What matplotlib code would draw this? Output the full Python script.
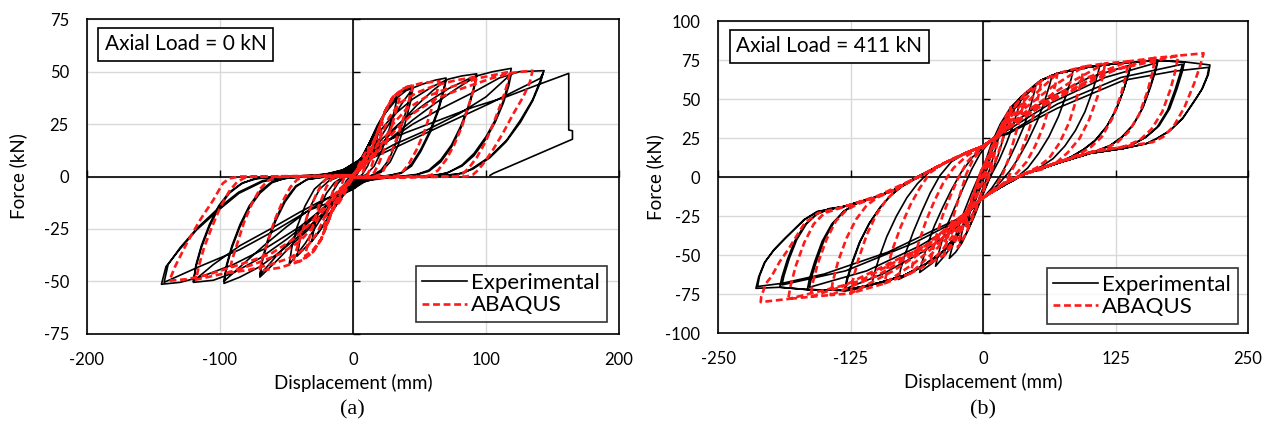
import matplotlib
matplotlib.use('Agg')
import matplotlib.pyplot as plt
import numpy as np

plt.rcParams['font.family'] = ['Lato', 'DejaVu Sans']
plt.rcParams['axes.unicode_minus'] = False

# ---- panel (a): axial load 0 kN, (displacement mm, force kN) ----
exp_a = [
    (0, 0), (3, 4), (6, 8), (10, 12), (8, 8), (5, 3), (2, 0), (0, -1),
    (-3, -4), (-6, -7), (-10, -10), (-8, -6), (-5, -2), (-2, 0), (0, 1),
    (4, 6), (8, 11), (14, 18), (20, 24), (18, 18), (15, 11), (11, 5), (7, 1), (3, -1), (0, -2),
    (-4, -5), (-9, -10), (-14, -15), (-20, -19), (-18, -13), (-15, -7), (-11, -3), (-6, 0), (0, 2),
    (5, 6), (10, 13), (16, 21), (24, 30), (33, 37), (31, 31), (27, 22), (22, 13), (16, 5), (10, 1), (4, -1), (0, -3),
    (-5, -6), (-11, -12), (-18, -19), (-25, -26), (-31, -31), (-29, -24), (-25, -15), (-20, -8), (-14, -3), (-7, 0), (0, 3),
    (5, 7), (11, 14), (18, 24), (26, 33), (35, 40), (44, 43), (42, 36), (38, 27), (33, 17), (27, 8), (21, 3), (14, 0.5), (6, -1), (0, -3),
    (-6, -8), (-13, -14), (-21, -22), (-30, -30), (-42, -38), (-40, -31), (-36, -22), (-31, -13), (-25, -6), (-18, -2), (-10, 0), (0, 3),
    (5, 6), (12, 11), (20, 18), (30, 28), (38, 36), (45, 42), (43, 35), (39, 25), (34, 15), (28, 7), (21, 2), (12, 0), (5, -1.5), (0, -4),
    (-7, -8), (-15, -12), (-25, -21), (-36, -32), (-48, -42), (-46, -34), (-42, -24), (-36, -14), (-29, -6), (-21, -1.5), (-10, 0.5), (0, 4),
    (4, 7), (10, 12), (16, 20), (22, 28), (30, 36), (40, 41), (52, 44), (62, 46), (70, 47),
    (68, 41), (64, 32), (58, 22), (51, 13), (44, 6), (37, 2), (28, 0.5), (15, 0), (6, -1.5), (0, -4),
    (-6, -8), (-13, -12), (-22, -18), (-33, -25), (-45, -32), (-57, -40), (-70, -48),
    (-68, -40), (-64, -31), (-58, -21), (-51, -12), (-43, -5), (-35, -1.5), (-25, -0.5), (-12, 0.5), (-5, 2), (0, 4),
    (5, 6), (12, 9), (22, 16), (35, 25), (48, 34), (60, 41), (70, 46),
    (68, 40), (64, 31), (58, 21), (51, 12), (44, 5), (36, 1.5), (25, 0.3), (12, -0.5), (5, -2), (0, -5),
    (-7, -8), (-15, -11), (-26, -17), (-40, -26), (-55, -36), (-70, -47),
    (-68, -39), (-64, -30), (-58, -20), (-51, -11), (-43, -4.5), (-34, -1.3), (-22, -0.3), (-10, 1), (-4, 2.5), (0, 5),
    (4, 7), (10, 12), (18, 20), (30, 29), (45, 37), (60, 43), (72, 46.5), (82, 48), (93, 49),
    (91, 43), (87, 34), (81, 24), (74, 15), (66, 8), (57, 3), (48, 1), (35, 0), (18, 0), (8, -1.5), (0, -5),
    (-6, -8), (-14, -12), (-25, -19), (-40, -28), (-55, -36), (-70, -43), (-85, -48), (-97, -51),
    (-95, -43), (-91, -34), (-85, -24), (-78, -15), (-70, -8), (-61, -3), (-52, -1), (-40, -0.3), (-20, 0.5), (-8, 2), (0, 5),
    (6, 7), (14, 10), (28, 18), (45, 27), (62, 35), (78, 42), (93, 48),
    (91, 42), (87, 33), (81, 23), (74, 14), (66, 7), (57, 2.5), (46, 0.5), (30, 0), (12, -1), (5, -2.5), (0, -5),
    (-8, -8), (-18, -10), (-33, -16), (-50, -24), (-67, -33), (-83, -42), (-97, -50),
    (-95, -42), (-91, -33), (-85, -23), (-78, -14), (-70, -7), (-61, -2.5), (-50, -0.8), (-35, 0), (-15, 1), (-5, 3), (0, 6),
    (5, 8), (12, 11), (22, 18), (38, 27), (55, 35), (72, 42), (90, 47.5), (105, 50), (119, 51.6),
    (117, 45), (113, 36), (107, 27), (100, 19), (91, 11), (82, 5.5), (72, 2), (62, 0.5), (40, 0), (20, -0.5), (8, -2), (0, -6),
    (-7, -8), (-16, -12), (-30, -20), (-50, -30), (-70, -39), (-90, -46), (-105, -49.5), (-120, -50.5),
    (-118, -43), (-114, -34), (-108, -24), (-101, -15), (-93, -8), (-84, -3.5), (-74, -1), (-60, -0.3), (-30, 0.5), (-10, 2), (0, 6),
    (7, 7), (16, 10), (30, 15), (55, 22), (80, 30), (100, 38), (119, 49),
    (117, 43), (113, 35), (107, 26), (100, 18), (91, 10), (82, 5), (70, 1.5), (58, 0.3), (30, -0.3), (10, -2), (0, -6),
    (-9, -8), (-22, -11), (-40, -17), (-62, -25), (-85, -33), (-105, -42), (-120, -50),
    (-118, -42), (-114, -33), (-108, -23), (-101, -14), (-93, -7.5), (-83, -3), (-72, -1), (-55, -0.2), (-25, 0.5), (-8, 2.5), (0, 6),
    (5, 7), (12, 10), (24, 16), (45, 25), (65, 32), (90, 40), (110, 47), (125, 50), (143.7, 50.5),
    (141, 46), (135, 36.6), (126, 27), (115.6, 17.4), (103, 9.5), (90, 4), (83, 1.5), (65, 0.3), (40, 0), (15, -0.5), (5, -3), (0, -6),
    (-10, -9), (-22, -15), (-40, -24), (-65, -34), (-90, -42), (-115, -48), (-130, -50.5), (-144, -51.4),
    (-140.6, -43), (-130.6, -35), (-117.6, -25.5), (-101, -16), (-85.7, -8), (-68, -2.5), (-50, -0.1), (-25, 0.5), (-8, 3), (0, 6),
    (6, 7.5), (15, 9), (22.5, 11.1), (65.3, 23.8), (103, 34.9), (140.7, 46.8), (143, 49.5),
    (141, 45), (135, 36), (126, 26), (115, 16.5), (103, 9), (90, 3.5), (78, 1), (55, 0), (20, -0.5), (6, -3), (0, -6),
    (-10, -9), (-20, -13), (-32.8, -16), (-57.9, -25.5), (-85.5, -35), (-115.6, -43), (-142, -50.5),
    (-139, -42), (-130, -34), (-117, -24.5), (-101, -15), (-86, -7.5), (-68, -2), (-50, 0), (-20, 1), (-6, 3.5), (0, 6),
    (5, 8), (15, 14.2), (40, 21), (65.3, 27), (90, 33), (115.6, 38.1), (140, 44), (162.2, 49.2),
    (162.2, 22.2), (165, 21.8), (165, 17.8), (105.5, 1.5), (103, 0.5),
]

fem_a = [
    (0, 0), (4, 5), (8, 10), (12, 14), (11, 11), (9, 5), (7, 1), (5, 0), (0, -0.5),
    (-4, -5), (-8, -10), (-12, -14), (-11, -10), (-9, -5), (-7, -1), (-5, 0), (0, 0.5),
    (6, 6), (12, 12), (17, 19), (22, 26), (21, 21), (18, 13), (14, 5), (11, 1), (8, 0), (0, -0.5),
    (-6, -6), (-12, -12), (-17, -19), (-22, -26), (-21, -21), (-18, -13), (-14, -5), (-11, -1), (-8, 0), (0, 0.5),
    (7, 6), (14, 13), (19, 22), (24, 31), (30, 37), (36, 40), (34, 35), (30, 26), (25, 16), (20, 7), (16, 2), (12, 0), (0, -0.5),
    (-7, -6), (-14, -13), (-19, -22), (-24, -30), (-30, -35), (-36, -38), (-34, -32), (-30, -23), (-25, -13), (-20, -5), (-16, -1), (-12, 0), (0, 0.5),
    (7, 6), (14, 13), (19, 22), (24, 31), (30, 38), (38, 42), (45, 43.4), (43, 38), (39, 30), (34, 20), (28, 10), (23, 3), (19, 0.5), (14, 0), (0, -0.5),
    (-7, -6), (-14, -13), (-19, -22), (-24, -30), (-30, -36), (-38, -40), (-45, -41), (-43, -36), (-39, -28), (-34, -18), (-28, -9), (-23, -3), (-19, -0.5), (-14, 0), (0, 0.5),
    (7, 6), (14, 13), (19, 22), (24, 31), (30, 38), (40, 42.7), (52, 44.6), (65, 45.5), (63, 40), (59, 32), (54, 22), (48, 13), (42, 6), (37, 2), (33, 0.3), (25, 0), (0, -0.5),
    (-7, -6), (-14, -13), (-19, -22), (-24, -30), (-30, -36), (-40, -40.5), (-55, -43.5), (-70, -45), (-68, -39), (-64, -31), (-59, -21), (-53, -12), (-47, -5), (-42, -1.5), (-37, -0.2), (-25, 0), (0, 0.5),
    (8, 5), (15, 11), (21, 19), (27, 28), (35, 35), (48, 40), (62, 43.5), (78, 46), (93, 47.5), (91, 42), (87, 34), (82, 24), (76, 15), (70, 8), (64, 3), (59, 0.8), (54, 0), (25, -0.3), (0, -0.5),
    (-8, -5), (-15, -11), (-21, -19), (-27, -27), (-35, -34), (-48, -39), (-62, -42), (-78, -44.5), (-93, -46), (-91, -40), (-87, -32), (-82, -22), (-76, -13), (-70, -6), (-64, -2), (-58, -0.3), (-50, 0), (0, 0.5),
    (8, 5), (16, 10), (23, 17), (30, 25), (40, 32), (55, 38), (75, 43), (95, 47), (118, 50), (116, 44), (112, 36), (106, 26), (100, 17), (93, 9), (87, 4), (82, 1), (77, 0), (40, -0.3), (0, -0.5),
    (-8, -5), (-16, -10), (-23, -17), (-30, -24), (-40, -31), (-55, -37), (-75, -42), (-95, -46), (-118, -49.2), (-116, -43), (-112, -34), (-106, -24), (-100, -15), (-93, -7), (-87, -2.5), (-81, -0.5), (-74, 0), (0, 0.5),
    (8, 5), (16, 10), (24, 16), (33, 23), (45, 30), (62, 37), (82, 42), (105, 47), (120, 49.5), (135, 50.5), (133, 45), (128, 38), (120.6, 30), (113, 21), (105.5, 13), (99, 7), (94, 3), (90, 0.8), (85, 0), (40, -0.3), (0, -0.5),
    (-8, -5), (-16, -10), (-24, -16), (-33, -23), (-45, -30), (-62, -37), (-85, -42), (-110, -47), (-125, -49), (-138, -49.7), (-133.8, -43), (-125, -31.9), (-115, -20.8), (-105, -11.2), (-97.9, -3.3), (-92.9, -0.9), (-85, 0), (-40, 0), (0, 0),
]

# ---- panel (b): axial load 411 kN ----
exp_b = [
    (0, 0), (4, 8), (8, 16), (6, 11), (3, 4), (0, -2), (-4, -9), (-8, -16), (-6, -11), (-3, -4), (0, 2),
    (4, 9), (10, 20), (16, 30), (14, 24), (10, 14), (6, 5), (2, -3), (-3, -12), (-9, -22), (-15, -30), (-13, -24), (-9, -14), (-5, -5), (-1, 3),
    (4, 11), (10, 22), (17, 33), (25, 42), (23, 35), (19, 25), (14, 14), (9, 5), (4, -4), (-2, -14), (-9, -26), (-16, -36), (-22, -42), (-20, -35), (-16, -25), (-11, -14), (-6, -5), (-1, 4),
    (5, 13), (12, 26), (20, 37), (28, 45), (36, 52), (33, 44), (28, 33), (22, 22), (15, 11), (8, 2), (1, -8), (-6, -20), (-13, -32), (-20, -42), (-26, -48), (-32, -52), (-29, -44), (-24, -33), (-18, -22), (-11, -10), (-4, 1), (2, 10),
    (8, 22), (16, 34), (26, 45), (38, 53), (50, 60),
    (48, 54), (44, 44), (38, 32), (31, 21), (24, 11), (17, 2), (8, -7), (0, -13), (-12, -21),
    (-20, -32), (-28, -42), (-36, -50), (-45, -57),
    (-43, -51), (-39, -41), (-33, -29), (-26, -18), (-19, -7), (-11, 5), (-3, 15), (5, 22), (12, 26),
    (25, 40), (38, 51.7), (52, 61), (65, 65.5),
    (63, 60), (58, 49), (51, 36), (42, 23), (33, 12), (25, 4), (15, -4), (0, -13), (-12, -21),
    (-22, -35), (-37, -47), (-48, -55), (-60, -61),
    (-58, -55), (-53, -44), (-46, -31), (-38, -19), (-30, -8), (-21, 3), (-10, 13), (0, 19), (12, 26),
    (25, 40), (38, 51.7), (54, 62), (70, 66.6), (85, 69),
    (83, 63), (78, 52), (71, 39), (62, 26), (52, 15), (42, 6), (30, -1), (20, -5), (0, -13), (-12, -21),
    (-22, -35), (-37, -47), (-55, -56), (-68, -61.5), (-80, -65.5),
    (-78, -59), (-73, -48), (-66, -35), (-58, -22), (-50, -10), (-41, 1), (-30, 10), (-15, 16), (0, 20), (12, 26),
    (25, 40), (38, 51.7), (54, 62), (70, 66.6), (90, 70), (110, 71.5),
    (108, 66), (103, 55), (96, 42), (87, 30), (77, 20), (66, 12), (55, 7), (38, 1.7), (20, -5), (0, -13), (-12, -21),
    (-22, -35), (-37, -47), (-55, -56), (-75, -63), (-90, -66.5), (-105, -68.5),
    (-103, -62), (-98, -51), (-91, -38), (-82, -25), (-72, -13), (-62, -4), (-50, 4), (-37, 9), (-15, 16), (0, 20), (12, 26),
    (25, 40), (38, 51.7), (54, 62), (70, 66.6), (101, 70.9), (120, 72.5), (140, 73.8),
    (138, 68), (133, 57), (126, 44), (117, 33), (106, 24), (95, 18), (84, 13.5), (70, 9), (38, 1.7), (20, -5), (0, -13), (-12, -21),
    (-22, -35), (-37, -47), (-55, -56), (-75, -63), (-100, -68), (-115, -71), (-131, -73),
    (-129, -66), (-124, -55), (-117, -42), (-108, -30), (-98, -20), (-88, -12), (-77, -6), (-62, 0), (-37, 9), (-15, 16), (0, 20), (12, 26),
    (25, 33), (60, 50), (100, 64), (139, 72),
    (137, 66), (132, 55), (125, 43), (116, 32), (105, 23), (94, 17.5), (84, 13.5), (70, 9), (38, 1.7), (20, -5), (0, -13), (-12, -21),
    (-25, -32), (-55, -47), (-95, -62), (-130, -71.5),
    (-128, -65), (-123, -54), (-116, -41), (-107, -29), (-97, -19), (-87, -11.5), (-77, -6), (-62, 0), (-37, 9), (-15, 16), (0, 20), (12, 26),
    (25, 40), (38, 51.7), (54, 62), (70, 66.6), (101, 70.9), (132.5, 73.5), (165, 75),
    (163, 69), (158, 58), (151, 45), (142, 34), (131, 26), (120, 20.5), (101, 15.4), (70, 9), (38, 1.7), (20, -5), (0, -13), (-12, -21),
    (-22, -35), (-37, -47), (-55, -56), (-75, -63), (-100, -68), (-131, -72.5), (-166, -72),
    (-164, -65), (-159, -54), (-152, -41), (-143, -30), (-132, -22), (-120, -17), (-100, -12.4), (-84, -8), (-62, 0), (-37, 9), (-15, 16), (0, 20), (12, 26),
    (25, 31), (65, 48), (115, 64), (164, 73.5),
    (162, 68), (157, 57), (150, 44), (141, 33), (130, 25), (119, 20), (101, 15.4), (70, 9), (38, 1.7), (20, -5), (0, -13), (-12, -21),
    (-25, -30), (-60, -44), (-110, -60), (-164, -70.5),
    (-162, -64), (-157, -53), (-150, -40), (-141, -29), (-131, -21.5), (-119, -16.5), (-100, -12.4), (-84, -8), (-62, 0), (-37, 9), (-15, 16), (0, 20), (12, 26),
    (25, 40), (38, 51.7), (54, 62), (70, 66.6), (101, 70.9), (132.5, 73.5), (164, 74.8), (190, 74),
    (188, 68), (183, 57), (176, 44), (166, 33), (154, 26), (142, 21.5), (132, 18.5), (101, 15.4), (70, 9), (38, 1.7), (20, -5), (0, -13), (-12, -21),
    (-22, -35), (-37, -47), (-55, -56), (-75, -63), (-100, -68), (-131, -72.5), (-166, -72), (-192, -70.5),
    (-190, -64), (-185, -53), (-178, -41), (-169, -31), (-158, -24), (-146, -20.5), (-132, -18.8), (-100, -12.4), (-84, -8), (-62, 0), (-37, 9), (-15, 16), (0, 20), (12, 26),
    (25, 29), (70, 47), (130, 64), (188, 72.5),
    (186, 67), (181, 56), (174, 43), (164, 32), (153, 25.5), (141, 21), (132, 18.5), (101, 15.4), (70, 9), (38, 1.7), (20, -5), (0, -13), (-12, -21),
    (-25, -28), (-65, -42), (-130, -60), (-190, -69),
    (-188, -63), (-183, -52), (-176, -40), (-167, -30), (-157, -23.5), (-145, -20), (-132, -18.8), (-100, -12.4), (-84, -8), (-62, 0), (-37, 9), (-15, 16), (0, 20), (12, 26),
    (25, 40), (38, 51.7), (54, 62), (70, 66.6), (101, 70.9), (132.5, 73.5), (164, 74.8), (190, 74), (214, 72),
    (212.5, 66), (207, 57), (201.5, 51.3), (189, 38.6), (176.5, 30.1), (164, 24.9), (154.5, 21.7), (132.5, 18.5), (101, 15.4), (70, 9), (38, 1.7), (20, -5), (0, -13), (-12, -21),
    (-22, -35), (-37, -47), (-55, -56), (-75, -63), (-100, -68), (-131, -72.5), (-166, -72), (-192, -70.5), (-214.5, -71.2),
    (-212, -64), (-206.7, -55), (-198, -47), (-188, -40), (-169.5, -27.4), (-157, -22), (-132, -18.8), (-100, -12.4), (-84, -8.1), (-62.2, 0.4), (-37, 9), (-15, 16), (0, 20), (12, 26),
    (22.6, 27.6), (69.7, 44.2), (132.5, 62.2), (180, 68), (213, 70.5),
    (211.5, 65), (206, 56), (200.5, 50), (188, 37.5), (175.5, 29.5), (163, 24.5), (153.5, 21.5), (132.5, 18.5), (101, 15.4), (70, 9), (38, 1.7), (20, -5), (0, -13), (-12, -21),
    (-25, -27), (-50, -35), (-90, -48), (-150, -62), (-190, -68), (-213, -70),
    (-211, -63), (-205.7, -54), (-197, -46), (-187, -39), (-168.5, -27), (-156, -22), (-132, -18.8), (-100, -12.4), (-84, -8.1), (-62.2, 0.4), (-37, 9), (-15, 16), (0, 20),
]

fem_b = [
    (0, 0), (5, 10), (9, 18), (7, 12), (4, 5), (0, -2), (-5, -10), (-9, -18), (-7, -12), (-4, -5), (0, 2),
    (6, 12), (12, 24), (17, 33), (15, 26), (11, 16), (7, 6), (2, -4), (-4, -14), (-10, -24), (-17, -33), (-15, -26), (-11, -16), (-7, -6), (-2, 4),
    (5, 13), (12, 25), (19, 36), (26, 45), (24, 38), (20, 28), (15, 17), (9, 6), (3, -4), (-3, -14), (-10, -26), (-17, -37), (-24, -45), (-22, -38), (-18, -28), (-13, -17), (-7, -6), (-1, 5),
    (6, 16), (13, 27), (20, 36), (30, 46), (40, 54),
    (38, 47), (34, 36), (29, 24), (24, 12), (19, 3), (12, -6), (5, -11), (0, -13), (-12, -20),
    (-20, -33), (-28, -43), (-37, -50),
    (-35, -43), (-31, -32), (-26, -20), (-21, -9), (-16, 2), (-10, 11), (-3, 17), (5, 22), (12, 26),
    (22, 38), (32, 47), (40, 54), (55, 62),
    (53, 55), (49, 43), (43, 30), (36, 17), (29, 7), (22, -2), (12, -8), (0, -13), (-12, -20),
    (-22, -33), (-30, -42), (-37, -50), (-50, -55),
    (-48, -48), (-44, -37), (-38, -24), (-31, -12), (-24, -1), (-15, 10), (-5, 17), (5, 22), (12, 26),
    (25, 38), (40, 50), (55, 62), (70, 66.6),
    (68, 59), (63, 47), (57, 33), (49, 20), (41, 10), (32, 3), (20, -4), (0, -13), (-12, -20),
    (-25, -34), (-38, -46), (-50, -55), (-68.5, -61.5),
    (-66, -54), (-61, -42), (-54, -28), (-46, -15), (-38, -4), (-28, 6), (-15, 14), (0, 20), (12, 26),
    (30, 40), (50, 54), (70, 66.6), (95, 71),
    (93, 63), (88, 50), (81, 35), (72, 22), (62, 12), (50, 6), (38, 2), (20, -4), (0, -13), (-12, -20),
    (-30, -36), (-50, -50), (-68.5, -61.5), (-93, -68),
    (-91, -60), (-86, -47), (-78, -32), (-69, -18), (-60, -7), (-50, 3), (-37, 9), (-15, 16), (0, 20), (12, 26),
    (35, 42), (65, 58), (95, 71), (115, 73),
    (113, 65), (108, 52), (100, 37), (91, 25), (80, 16), (70, 10), (55, 5), (38, 2), (20, -4), (0, -13), (-12, -20),
    (-35, -38), (-65, -55), (-93, -68), (-125, -74.4),
    (-123, -66), (-118, -53), (-110, -37), (-101, -24), (-91, -14), (-80, -7), (-62, 0), (-37, 9), (-15, 16), (0, 20), (12, 26),
    (40, 42), (80, 60), (115, 73), (137, 74.3),
    (135, 66), (130, 53), (122, 38), (112, 26), (101, 19), (88, 14), (70, 9.5), (38, 2), (20, -4), (0, -13), (-12, -20),
    (-40, -40), (-85, -60), (-125, -74.4), (-144, -75.5),
    (-142, -67), (-137, -54), (-129, -39), (-120, -27), (-110, -18), (-100, -13), (-84, -8), (-62, 0), (-37, 9), (-15, 16), (0, 20), (12, 26),
    (45, 43), (95, 63), (137, 74.3), (162, 76.5),
    (160, 68), (155, 55), (147, 40), (137, 29), (126, 22), (115, 18.5), (101, 16), (70, 9.5), (38, 2), (20, -4), (0, -13), (-12, -20),
    (-45, -41), (-100, -63), (-144, -75.5), (-163, -76.6),
    (-161, -68), (-156, -55), (-148, -40), (-139, -28), (-129, -21), (-118, -17), (-100, -12.4), (-84, -8), (-62, 0), (-37, 9), (-15, 16), (0, 20), (12, 26),
    (50, 44), (110, 66), (162, 76.5), (184, 78),
    (182, 70), (177, 57), (169, 42), (159, 31), (148, 24), (136, 20.5), (132, 19.5), (101, 16), (70, 9.5), (38, 2), (20, -4), (0, -13), (-12, -20),
    (-50, -42), (-115, -66), (-163, -76.6), (-184, -78),
    (-182, -70), (-177, -57), (-169, -42), (-160, -30), (-150, -23), (-132, -19), (-100, -12.4), (-84, -8), (-62, 0), (-37, 9), (-15, 16), (0, 20), (12, 26),
    (55, 46), (125, 69), (184, 78), (208, 79.5),
    (205, 72), (199, 60), (190, 45), (180, 33), (170, 26), (160, 22.5), (145, 21), (132, 19.5), (101, 16), (70, 9.5), (38, 2), (20, -4), (0, -13), (-12, -20),
    (-55, -44), (-130, -69), (-184, -78), (-210, -80),
    (-209.5, -76.5), (-205, -68), (-200, -63.7), (-192, -54), (-184.4, -46.6), (-168.7, -29.5), (-156, -23), (-132, -19), (-100, -12), (-62, 0), (-37, 9), (-15, 16), (0, 20),
]

a_xticks = [-200, -100, 0, 100, 200]
a_yticks = [-75, -50, -25, 0, 25, 50, 75]
b_xticks = [-250, -125, 0, 125, 250]
b_yticks = [-100, -75, -50, -25, 0, 25, 50, 75, 100]

fig = plt.figure(figsize=(12.75, 4.28), dpi=100)
ax_a = fig.add_axes([0.0682, 0.2203, 0.4173, 0.7346])
ax_b = fig.add_axes([0.5634, 0.2213, 0.4155, 0.7289])


def panel(ax, exp, fem, xticks, yticks, note, leg_xy, ylab_x):
    ex, ey = zip(*exp)
    fx, fy = zip(*fem)
    ax.plot(ex, ey, color='black', lw=1.2, zorder=3, label='Experimental')
    ax.plot(fx, fy, color='#ff1a1a', lw=1.9, dashes=(2.6, 1.4), zorder=4, label='ABAQUS')

    ax.set_xlim(xticks[0], xticks[-1])
    ax.set_ylim(yticks[0], yticks[-1])
    ax.set_xticks(xticks)
    ax.set_yticks(yticks)
    ax.set_xticklabels([str(t) for t in xticks])
    ax.set_yticklabels([str(t) for t in yticks])
    ax.tick_params(length=0, labelsize=12, pad=13)
    ax.grid(color='#d9d9d9', lw=1.0)
    ax.set_axisbelow(True)
    for s in ax.spines.values():
        s.set_linewidth(1.2)
        s.set_color('black')

    # axes crossing at zero, with small tick marks on them
    ax.axhline(0, color='black', lw=1.2, zorder=2)
    ax.axvline(0, color='black', lw=1.2, zorder=2)
    ax.plot(np.zeros(len(yticks)), yticks, ls='none', marker=1, ms=5, mew=1.0,
            color='black', zorder=2, clip_on=False)
    ax.plot(xticks, np.zeros(len(xticks)), ls='none', marker=2, ms=5, mew=1.0,
            color='black', zorder=2, clip_on=False)

    ax.set_xlabel('Displacement (mm)', fontsize=13.5)
    ax.xaxis.set_label_coords(0.5, -0.157)
    ax.xaxis.label.set_va('center')
    ax.set_ylabel('Force (kN)', fontsize=13.5)
    ax.yaxis.set_label_coords(ylab_x, 0.5)
    ax.yaxis.label.set_va('center')

    ax.text(0.034, 0.952, note, transform=ax.transAxes, ha='left', va='top', fontsize=15,
            bbox=dict(boxstyle='square,pad=0.32', fc='white', ec='black', lw=1.2), zorder=6)

    leg = ax.legend(loc='lower right', bbox_to_anchor=leg_xy, fontsize=16, frameon=True,
                    fancybox=False, borderaxespad=0, handlelength=2.0, handletextpad=0.2,
                    labelspacing=0.12, borderpad=0.3)
    leg.get_frame().set_edgecolor('black')
    leg.get_frame().set_linewidth(1.2)
    leg.set_zorder(6)


panel(ax_a, exp_a, fem_a, a_xticks, a_yticks, 'Axial Load = 0 kN', (0.977, 0.037), -0.13)
panel(ax_b, exp_b, fem_b, b_xticks, b_yticks, 'Axial Load = 411 kN', (0.98, 0.03), -0.12)

fig.text(352 / 1275, 1 - 410 / 428, '(a)', ha='center', va='center', fontsize=16,
         family='Liberation Serif')
fig.text(983 / 1275, 1 - 410 / 428, '(b)', ha='center', va='center', fontsize=16,
         family='Liberation Serif')

fig.savefig('out.png', dpi=100)
